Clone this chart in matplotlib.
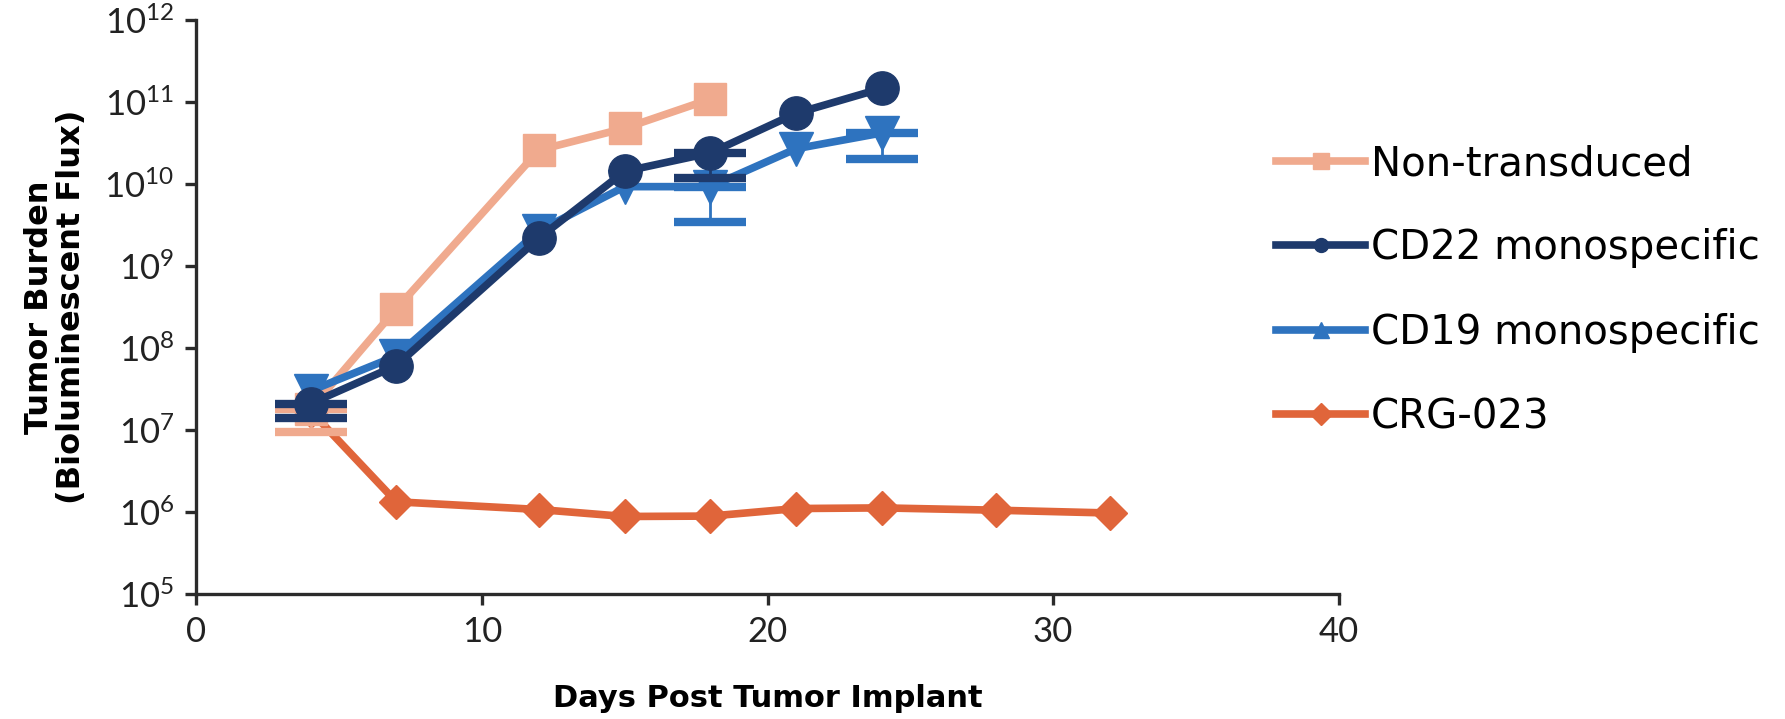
import numpy as np
import matplotlib.pyplot as plt
from matplotlib.lines import Line2D
from matplotlib.ticker import FixedLocator, FixedFormatter

# days post tumor implant
days_nt = [4, 7, 12, 15, 18]
days_cd22 = [4, 7, 12, 15, 18, 21, 24]
days_cd19 = [4, 7, 12, 15, 18, 21, 24]
days_crg = [4, 7, 12, 15, 18, 21, 24, 28, 32]

# tumor burden (bioluminescent flux)
flux_nt = [1.8e7, 3.0e8, 2.6e10, 4.8e10, 1.09e11]
flux_cd22 = [2.1e7, 6.1e7, 2.2e9, 1.43e10, 2.4e10, 7.3e10, 1.47e11]
flux_cd19 = [3.0e7, 8.0e7, 2.7e9, 9.3e9, 9.3e9, 2.7e10, 4.2e10]
flux_crg = [1.7e7, 1.33e6, 1.07e6, 8.8e5, 8.9e5, 1.1e6, 1.12e6, 1.05e6, 9.7e5]

# lower error bar ends (only the lower half is drawn in the source)
low_nt = [9.5e6, 3.0e8, 2.6e10, 4.8e10, 1.09e11]
low_cd22 = [1.4e7, 6.1e7, 2.2e9, 1.43e10, 1.2e10, 7.3e10, 1.47e11]
low_cd19 = [3.0e7, 8.0e7, 2.7e9, 9.3e9, 3.4e9, 2.7e10, 2.0e10]

labels = ['Non-transduced', 'CD22 monospecific', 'CD19 monospecific', 'CRG-023']
colors = ['#F0AA8E', '#1E3A6C', '#2E73BF', '#E0653A']

x_ticks = [0, 10, 20, 30, 40]
y_exponents = [5, 6, 7, 8, 9, 10, 11, 12]

plt.rcParams['font.family'] = ['DejaVu Sans']
plt.rcParams['mathtext.default'] = 'regular'

fig = plt.figure(figsize=(17.85, 7.19), dpi=100)
ax = fig.add_axes([0.110, 0.174, 0.640, 0.798])


def draw_series(days, flux, low, color, marker, ms, z):
    days = np.array(days)
    flux = np.array(flux)
    ax.plot(days, flux, color=color, lw=5.5, marker=marker, ms=ms,
            mec=color, mfc=color, zorder=z, clip_on=False)
    if low is not None:
        low = np.array(low)
        keep = low < flux
        err = np.vstack([flux[keep] - low[keep], np.zeros(keep.sum())])
        ax.errorbar(days[keep], flux[keep], yerr=err, fmt='none', ecolor=color,
                    elinewidth=2, capsize=26, capthick=6, zorder=z - 0.5)


draw_series(days_crg, flux_crg, None, colors[3], 'D', 17, 3)
draw_series(days_nt, flux_nt, low_nt, colors[0], 's', 23, 4)
draw_series(days_cd19, flux_cd19, low_cd19, colors[2], 'v', 25, 5)
draw_series(days_cd22, flux_cd22, low_cd22, colors[1], 'o', 24, 6)

ax.set_yscale('log')
ax.set_xlim(0, 40)
ax.set_ylim(10.0 ** y_exponents[0], 10.0 ** y_exponents[-1])
ax.yaxis.set_major_locator(FixedLocator([10.0 ** e for e in y_exponents]))
ax.yaxis.set_major_formatter(FixedFormatter(
    [r'$\mathdefault{10^{%d}}$' % e for e in y_exponents]))
ax.yaxis.set_minor_locator(FixedLocator([]))
ax.set_xticks(x_ticks)
ax.set_xticklabels([str(t) for t in x_ticks])

for side in ['top', 'right']:
    ax.spines[side].set_visible(False)
for side in ['left', 'bottom']:
    ax.spines[side].set_linewidth(2.4)
    ax.spines[side].set_color('#2b2b2b')
ax.tick_params(direction='out', length=8, width=2.4, color='#2b2b2b',
               labelsize=25, labelcolor='#222222', pad=8)
for lab in ax.get_xticklabels() + ax.get_yticklabels():
    lab.set_family(['Lato', 'DejaVu Sans'])

ax.set_xlabel('Days Post Tumor Implant', fontsize=22, fontweight='bold',
              labelpad=26)
ax.set_ylabel('Tumor Burden\n(Bioluminescent Flux)', fontsize=23,
              fontweight='bold', labelpad=12, linespacing=1.05)

handles = [
    Line2D([], [], color=colors[0], lw=5.5, marker='s', ms=11),
    Line2D([], [], color=colors[1], lw=5.5, marker='o', ms=10),
    Line2D([], [], color=colors[2], lw=5.5, marker='^', ms=12),
    Line2D([], [], color=colors[3], lw=5.5, marker='D', ms=11),
]
fig.legend(handles, labels, loc='upper left', bbox_to_anchor=(0.706, 0.822),
           frameon=False, fontsize=29, handlelength=2.2, handletextpad=0.15,
           labelspacing=1.1, borderaxespad=0)

plt.savefig('out.png', dpi=100)
